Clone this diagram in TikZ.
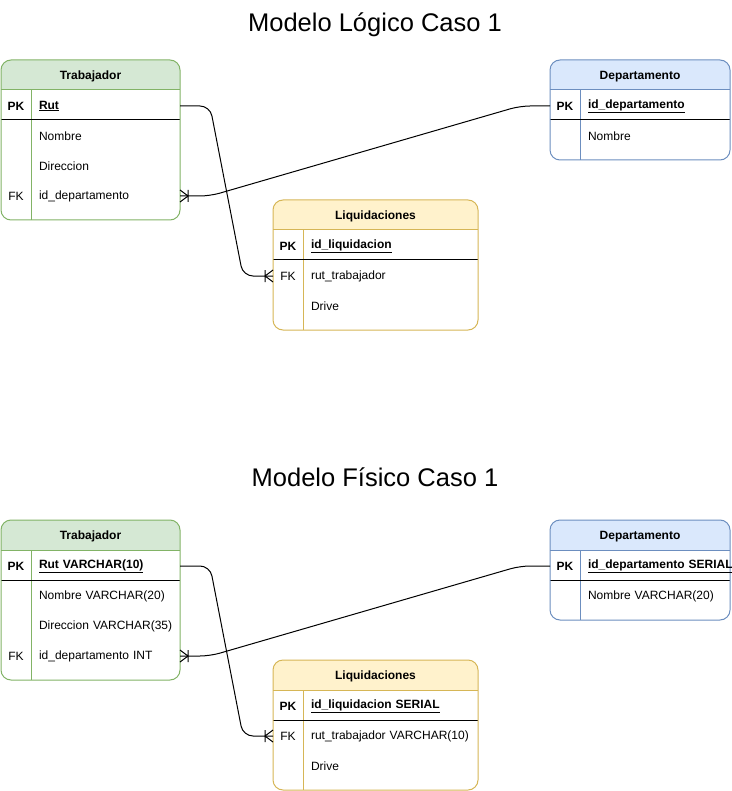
\documentclass[tikz,border=0pt]{standalone}
\usepackage{fontspec}
\setmainfont{Liberation Sans}
\usetikzlibrary{calc}

\definecolor{grnfill}{HTML}{D5E8D4}
\definecolor{grnline}{HTML}{82B366}
\definecolor{blufill}{HTML}{DAE8FC}
\definecolor{bluline}{HTML}{6C8EBF}
\definecolor{ylwfill}{HTML}{FFF2CC}
\definecolor{ylwline}{HTML}{D6B656}

% Entity table: #1 name, #2 left, #3 top, #4 width, #5 height, #6 colour prefix, #7 title
\newcommand\entitybox[7]{%
  \node[entity, minimum width=#4pt, minimum height=#5pt] (#1) at (#2,#3) {};
  \begin{scope}
    \clip[rounded corners=10pt] (#1.north west) rectangle (#1.south east);
    \fill[#6fill] (#1.north west) rectangle ($(#1.north east)+(0,30)$);
  \end{scope}
  \draw[draw=#6line] ($(#1.north west)+(0,30)$) -- ($(#1.north east)+(0,30)$);
  \draw[draw=#6line] ($(#1.north west)+(30,30)$) -- ($(#1.south west)+(30,0)$);
  \draw[draw=black] ($(#1.north west)+(0,60)$) -- ($(#1.north east)+(0,60)$);
  \draw[draw=#6line, rounded corners=10pt] (#1.north west) rectangle (#1.south east);
  \node[headtext] (#1-head) at ($(#1.north)+(0,19.5)$) {#7};
}

\tikzset{
  crowfoot/.pic={\draw[line width=1pt] (-8,-6) -- (-8,6) (0,-6) -- (-8,0) -- (0,6);}
}

\begin{document}
\begin{tikzpicture}[
  x=1pt, y=-1pt, line width=1pt,
  font=\fontsize{12}{14}\selectfont,
  entity/.style={rectangle, rounded corners=10pt, fill=white, inner sep=0pt, outer sep=0pt, anchor=north west},
  headtext/.style={font=\fontsize{12}{14}\selectfont\bfseries, inner sep=0pt, anchor=base},
  keycell/.style={minimum width=30pt, minimum height=30pt, inner sep=0pt, outer sep=0pt, anchor=north west, yshift=-1pt},
  pkkey/.style={keycell, font=\fontsize{12}{14}\selectfont\bfseries},
  field/.style={text width=#1, inner xsep=8pt, inner ysep=0pt, minimum height=30pt, outer sep=0pt, anchor=north west, align=left, yshift=-1pt},
  pkfield/.style={field=#1, font=\fontsize{12}{14}\selectfont\bfseries},
  title/.style={font=\fontsize{25.5}{30}\selectfont, anchor=base, inner sep=0pt},
  conn/.style={draw=black, line width=1pt, rounded corners=10pt},
]
\useasboundingbox (0,0) rectangle (731,791);

% ---------------- logical model ----------------
\node[title] (titA) at (375,31.5) {Modelo Lógico Caso 1};

\entitybox{tA}{1}{60}{179}{160}{grn}{Trabajador}
\node[pkkey] (tA-k1) at (1,90) {PK};
\node[pkfield=133pt] (tA-rut) at (31,90) {\underline{Rut}};
\node[field=133pt] (tA-nom) at (31,120) {\mbox{Nombre}};
\node[field=133pt] (tA-dir) at (31,150) {\mbox{Direccion}};
\node[keycell] (tA-k4) at (1,180) {FK};
\node[field=133pt] (tA-dep) at (31,180) {\mbox{id\_departamento}};

\entitybox{dA}{550}{60}{180}{100}{blu}{Departamento}
\node[pkkey] (dA-k1) at (550,90) {PK};
\node[pkfield=134pt] (dA-id) at (580,90) {\underline{id\_departamento}};
\node[field=134pt] (dA-nom) at (580,120) {\mbox{Nombre}};

\entitybox{lA}{273}{200}{205}{130}{ylw}{Liquidaciones}
\node[pkkey] (lA-k1) at (273,230) {PK};
\node[pkfield=159pt] (lA-id) at (303,230) {\underline{id\_liquidacion}};
\node[keycell] (lA-k2) at (273,260) {FK};
\node[field=159pt] (lA-rut) at (303,260) {\mbox{rut\_trabajador}};
\node[field=159pt] (lA-drv) at (303,290) {\mbox{Drive}};

\draw[conn] (tA-rut.east) -- ++(30,0) -- ($(lA-k2.west)+(-30,0)$) -- (lA-k2.west);
\pic at (lA-k2.west) {crowfoot};
\draw[conn] (dA-k1.west) -- ++(-30,0) -- ($(tA-dep.east)+(30,0)$) -- (tA-dep.east);
\pic[rotate=180] at (tA-dep.east) {crowfoot};

% ---------------- physical model ----------------
\node[title] (titB) at (375,486.5) {Modelo Físico Caso 1};

\entitybox{tB}{1}{520}{179}{160}{grn}{Trabajador}
\node[pkkey] (tB-k1) at (1,550) {PK};
\node[pkfield=133pt] (tB-rut) at (31,550) {\underline{Rut VARCHAR(10)}};
\node[field=133pt] (tB-nom) at (31,580) {\mbox{Nombre VARCHAR(20)}};
\node[field=133pt] (tB-dir) at (31,610) {\mbox{Direccion VARCHAR(35)}};
\node[keycell] (tB-k4) at (1,640) {FK};
\node[field=133pt] (tB-dep) at (31,640) {\mbox{id\_departamento INT}};

\entitybox{dB}{550}{520}{180}{100}{blu}{Departamento}
\node[pkkey] (dB-k1) at (550,550) {PK};
\node[pkfield=134pt] (dB-id) at (580,550) {\underline{id\_departamento SERIAL}};
\node[field=134pt] (dB-nom) at (580,580) {\mbox{Nombre VARCHAR(20)}};

\entitybox{lB}{273}{660}{205}{130}{ylw}{Liquidaciones}
\node[pkkey] (lB-k1) at (273,690) {PK};
\node[pkfield=159pt] (lB-id) at (303,690) {\underline{id\_liquidacion SERIAL}};
\node[keycell] (lB-k2) at (273,720) {FK};
\node[field=159pt] (lB-rut) at (303,720) {\mbox{rut\_trabajador VARCHAR(10)}};
\node[field=159pt] (lB-drv) at (303,750) {\mbox{Drive}};

\draw[conn] (tB-rut.east) -- ++(30,0) -- ($(lB-k2.west)+(-30,0)$) -- (lB-k2.west);
\pic at (lB-k2.west) {crowfoot};
\draw[conn] (dB-k1.west) -- ++(-30,0) -- ($(tB-dep.east)+(30,0)$) -- (tB-dep.east);
\pic[rotate=180] at (tB-dep.east) {crowfoot};
\end{tikzpicture}
\end{document}
